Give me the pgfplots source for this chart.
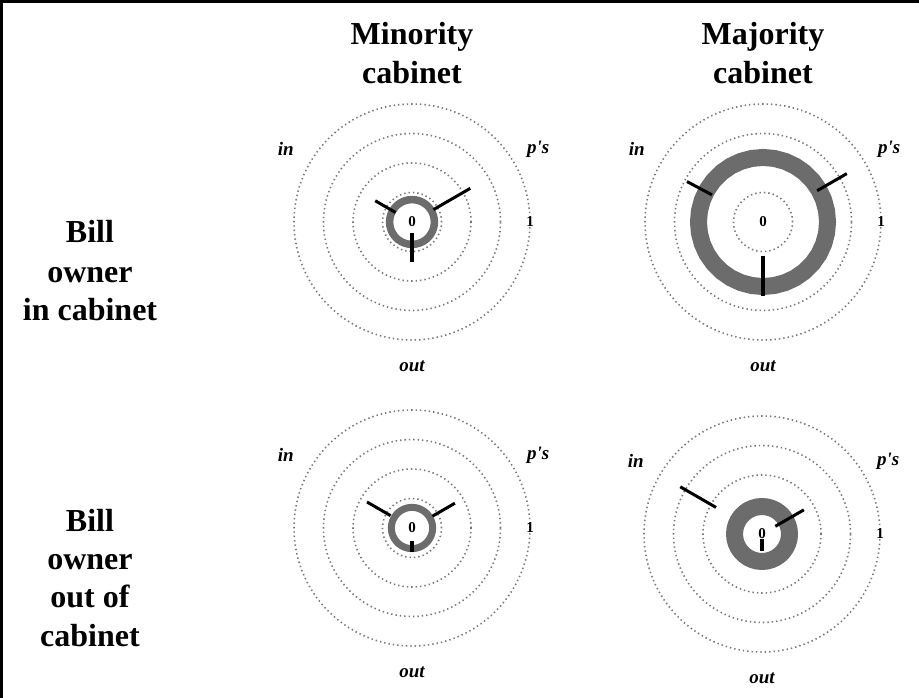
\documentclass[border=0pt]{standalone}
\usepackage{fontspec}
\setmainfont{Liberation Serif}
\usepackage{pgfplots}
\pgfplotsset{compat=1.18}
\usepgfplotslibrary{polar}
\definecolor{ringgray}{RGB}{108,108,108}
\definecolor{dotgray}{RGB}{120,120,120}
\pgfplotsset{panel/.style={
  scale only axis, width=306.8bp, height=306.8bp, anchor=center,
  xmin=0, xmax=360, ymin=0, ymax=1.3,
  xtick=\empty, ytick={0.25,0.5,0.75,1}, yticklabels={},
  ytick style={draw=none},
  xmajorgrids=false, ymajorgrids=true,
  major grid style={draw=dotgray, line width=1.6bp, dash pattern=on 1.4bp off 3bp, line cap=butt},
  axis line style={draw=none},
  clip=false,
}}
\newcommand{\labfont}{\fontsize{19bp}{22bp}\selectfont\bfseries\itshape}
\newcommand{\numfont}{\fontsize{15bp}{18bp}\selectfont\bfseries}
\newcommand{\bigfont}{\fontsize{32bp}{38bp}\selectfont\bfseries}
\begin{document}
\begin{tikzpicture}[x=1bp,y=1bp]
\useasboundingbox (0,0) rectangle (919,698);
\draw[line width=3bp] (1.5,0) -- (1.5,696.5) -- (919,696.5);
% titles
\node[anchor=base,font=\bigfont] at (412,653) {Minority};
\node[anchor=base,font=\bigfont] at (412,614) {cabinet};
\node[anchor=base,font=\bigfont] at (763,653) {Majority};
\node[anchor=base,font=\bigfont] at (763,614) {cabinet};
% row labels
\node[anchor=base,font=\bigfont] at (90,455) {Bill};
\node[anchor=base,font=\bigfont] at (90,415) {owner};
\node[anchor=base,font=\bigfont] at (90,377) {in cabinet};
\node[anchor=base,font=\bigfont] at (90,166) {Bill};
\node[anchor=base,font=\bigfont] at (90,128) {owner};
\node[anchor=base,font=\bigfont] at (90,90) {out of};
\node[anchor=base,font=\bigfont] at (90,51) {cabinet};
% ---------- top left
\begin{polaraxis}[panel, at={(412bp,476bp)}]
\addplot[ringgray, line width=7.5bp, line join=round] coordinates {(0,0.19)(10,0.19)(20,0.19)(30,0.19)(40,0.19)(50,0.19)(60,0.19)(70,0.19)(80,0.19)(90,0.19)(100,0.19)(110,0.19)(120,0.19)(130,0.19)(140,0.19)(150,0.19)(160,0.19)(170,0.19)(180,0.19)(190,0.19)(200,0.19)(210,0.19)(220,0.19)(230,0.19)(240,0.19)(250,0.19)(260,0.19)(270,0.19)(280,0.19)(290,0.19)(300,0.19)(310,0.19)(320,0.19)(330,0.19)(340,0.19)(350,0.19)(360,0.19)(370,0.19)(380,0.19)};
\addplot[black, line width=3bp] coordinates {(150,0.16)(150,0.36)};
\addplot[black, line width=3bp] coordinates {(30,0.21)(30,0.57)};
\addplot[black, line width=3.5bp] coordinates {(270,0.095)(270,0.34)};
\node[font=\labfont] at (axis cs:150,1.235) {in};
\node[font=\labfont] at (axis cs:30,1.235) {p\textquotesingle s};
\node[font=\labfont] at (axis cs:270,1.22) {out};
\node[font=\numfont] at (axis cs:0,0) {0};
\node[font=\numfont] at (axis cs:0,1) {1};
\end{polaraxis}
% ---------- top right
\begin{polaraxis}[panel, at={(763bp,476bp)}]
\addplot[ringgray, line width=17bp, line join=round] coordinates {(0,0.547)(10,0.547)(20,0.547)(30,0.547)(40,0.547)(50,0.547)(60,0.547)(70,0.547)(80,0.547)(90,0.547)(100,0.547)(110,0.547)(120,0.547)(130,0.547)(140,0.547)(150,0.547)(160,0.547)(170,0.547)(180,0.547)(190,0.547)(200,0.547)(210,0.547)(220,0.547)(230,0.547)(240,0.547)(250,0.547)(260,0.547)(270,0.547)(280,0.547)(290,0.547)(300,0.547)(310,0.547)(320,0.547)(330,0.547)(340,0.547)(350,0.547)(360,0.547)(370,0.547)(380,0.547)};
\addplot[black, line width=3bp] coordinates {(152,0.49)(152,0.73)};
\addplot[black, line width=3bp] coordinates {(30,0.53)(30,0.82)};
\addplot[black, line width=3.5bp] coordinates {(270,0.29)(270,0.63)};
\node[font=\labfont] at (axis cs:150,1.235) {in};
\node[font=\labfont] at (axis cs:30,1.235) {p\textquotesingle s};
\node[font=\labfont] at (axis cs:270,1.22) {out};
\node[font=\numfont] at (axis cs:0,0) {0};
\node[font=\numfont] at (axis cs:0,1) {1};
\end{polaraxis}
% ---------- bottom left
\begin{polaraxis}[panel, at={(412bp,170bp)}]
\addplot[ringgray, line width=7bp, line join=round] coordinates {(0,0.175)(10,0.175)(20,0.175)(30,0.175)(40,0.175)(50,0.175)(60,0.175)(70,0.175)(80,0.175)(90,0.175)(100,0.175)(110,0.175)(120,0.175)(130,0.175)(140,0.175)(150,0.175)(160,0.175)(170,0.175)(180,0.175)(190,0.175)(200,0.175)(210,0.175)(220,0.175)(230,0.175)(240,0.175)(250,0.175)(260,0.175)(270,0.175)(280,0.175)(290,0.175)(300,0.175)(310,0.175)(320,0.175)(330,0.175)(340,0.175)(350,0.175)(360,0.175)(370,0.175)(380,0.175)};
\addplot[black, line width=3bp] coordinates {(150,0.21)(150,0.44)};
\addplot[black, line width=3bp] coordinates {(30,0.20)(30,0.42)};
\addplot[black, line width=3.5bp] coordinates {(270,0.11)(270,0.20)};
\node[font=\labfont] at (axis cs:150,1.235) {in};
\node[font=\labfont] at (axis cs:30,1.235) {p\textquotesingle s};
\node[font=\labfont] at (axis cs:270,1.22) {out};
\node[font=\numfont] at (axis cs:0,0) {0};
\node[font=\numfont] at (axis cs:0,1) {1};
\end{polaraxis}
% ---------- bottom right
\begin{polaraxis}[panel, at={(762bp,164bp)}]
\addplot[ringgray, line width=17bp, line join=round] coordinates {(0,0.233)(10,0.233)(20,0.233)(30,0.233)(40,0.233)(50,0.233)(60,0.233)(70,0.233)(80,0.233)(90,0.233)(100,0.233)(110,0.233)(120,0.233)(130,0.233)(140,0.233)(150,0.233)(160,0.233)(170,0.233)(180,0.233)(190,0.233)(200,0.233)(210,0.233)(220,0.233)(230,0.233)(240,0.233)(250,0.233)(260,0.233)(270,0.233)(280,0.233)(290,0.233)(300,0.233)(310,0.233)(320,0.233)(330,0.233)(340,0.233)(350,0.233)(360,0.233)(370,0.233)(380,0.233)};
\addplot[black, line width=3bp] coordinates {(150,0.45)(150,0.80)};
\addplot[black, line width=3bp] coordinates {(30,0.13)(30,0.41)};
\addplot[black, line width=3.5bp] coordinates {(270,0.04)(270,0.14)};
\node[font=\labfont] at (axis cs:150,1.235) {in};
\node[font=\labfont] at (axis cs:30,1.235) {p\textquotesingle s};
\node[font=\labfont] at (axis cs:270,1.22) {out};
\node[font=\numfont] at (axis cs:0,0) {0};
\node[font=\numfont] at (axis cs:0,1) {1};
\end{polaraxis}
\end{tikzpicture}
\end{document}
